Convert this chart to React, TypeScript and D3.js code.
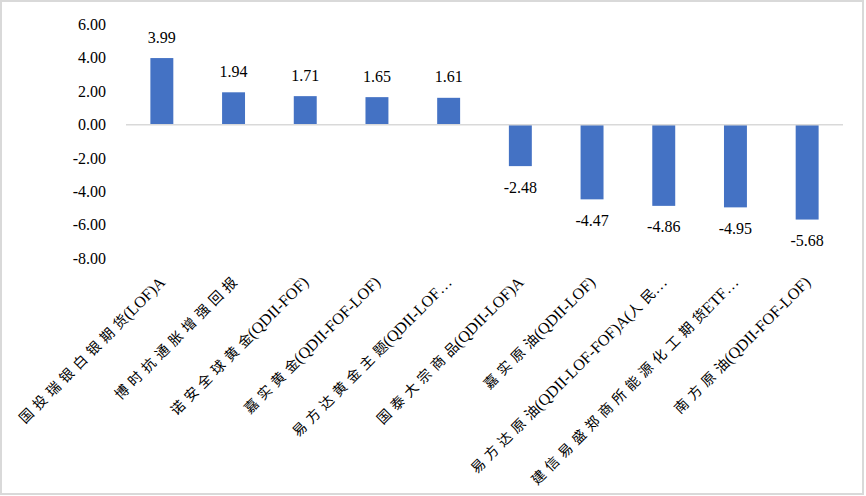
import React from "react";
import * as d3 from "d3";

const categories: string[] = [
  "国投瑞银白银期货(LOF)A",
  "博时抗通胀增强回报",
  "诺安全球黄金(QDII-FOF)",
  "嘉实黄金(QDII-FOF-LOF)",
  "易方达黄金主题(QDII-LOF…",
  "国泰大宗商品(QDII-LOF)A",
  "嘉实原油(QDII-LOF)",
  "易方达原油(QDII-LOF-FOF)A(人民…",
  "建信易盛郑商所能源化工期货ETF…",
  "南方原油(QDII-FOF-LOF)",
];
const values: number[] = [3.99, 1.94, 1.71, 1.65, 1.61, -2.48, -4.47, -4.86, -4.95, -5.68];
const yTicks: number[] = [6, 4, 2, 0, -2, -4, -6, -8];

const W = 866;
const H = 496;
const SERIF = "Liberation Serif";
const CJK = "Noto Sans CJK SC";

function splitRuns(s: string): { text: string; cjk: boolean }[] {
  const runs: { text: string; cjk: boolean }[] = [];
  for (const ch of s) {
    const cjk = /[\u3400-\u9fff]/.test(ch);
    const last = runs[runs.length - 1];
    if (last && last.cjk === cjk) last.text += ch;
    else runs.push({ text: ch, cjk });
  }
  return runs;
}

function renderLabel(c: string) {
  const out: React.ReactNode[] = [];
  splitRuns(c).forEach((r, k) => {
    if (r.cjk) {
      const chars = Array.from(r.text);
      const head = chars.slice(0, -1).join("");
      const tail = chars[chars.length - 1];
      if (head)
        out.push(
          <tspan key={k + "h"} fontFamily={CJK} fontSize={14} letterSpacing={5}>
            {head}
          </tspan>
        );
      out.push(
        <tspan key={k + "t"} fontFamily={CJK} fontSize={14}>
          {tail}
        </tspan>
      );
    } else {
      out.push(<tspan key={k}>{r.text}</tspan>);
    }
  });
  return out;
}

export default function App() {
  const x = d3.scaleBand<string>().domain(categories).range([126, 843]).paddingInner(0.68).paddingOuter(0.34);
  const y = d3.scaleLinear().domain([-8, 6]).range([258.3, 24.5]);
  const y0 = y(0);

  return (
    <svg width={W} height={H} style={{ position: "absolute", left: 0, top: 0, background: "#fff" }}>
      <rect x={1} y={1} width={W - 4} height={H - 3} fill="#fff" stroke="#d9d9d9" strokeWidth={2} />
      {yTicks.map((t) => (
        <text key={t} x={106} y={y(t)} textAnchor="end" dominantBaseline="central" fontFamily={SERIF} fontSize={16} fill="#000">
          {t.toFixed(2)}
        </text>
      ))}
      {categories.map((c, i) => {
        const v = values[i];
        const bx = x(c)!;
        const top = y(Math.max(0, v));
        const h = Math.abs(y(v) - y0);
        return <rect key={c} x={bx} y={top} width={x.bandwidth()} height={h} fill="#4472C4" />;
      })}
      <line x1={126} x2={843} y1={y0} y2={y0} stroke="#d9d9d9" strokeWidth={1.5} />
      {categories.map((c, i) => {
        const v = values[i];
        const cx = x(c)! + x.bandwidth() / 2;
        const ly = v >= 0 ? y(v) - 21 : y(v) + 21;
        return (
          <text key={"l" + c} x={cx} y={ly} textAnchor="middle" dominantBaseline="central" fontFamily={SERIF} fontSize={16} fill="#000">
            {v.toFixed(2)}
          </text>
        );
      })}
      {categories.map((c) => {
        const cx = x(c)! + x.bandwidth() / 2;
        const ay = 279;
        return (
          <text
            key={"c" + c}
            transform={`translate(${cx},${ay}) rotate(-45)`}
            textAnchor="end"
            dominantBaseline="central"
            fontFamily={SERIF}
            fontSize={16}
            fill="#000"
          >
            {renderLabel(c)}
          </text>
        );
      })}
    </svg>
  );
}
